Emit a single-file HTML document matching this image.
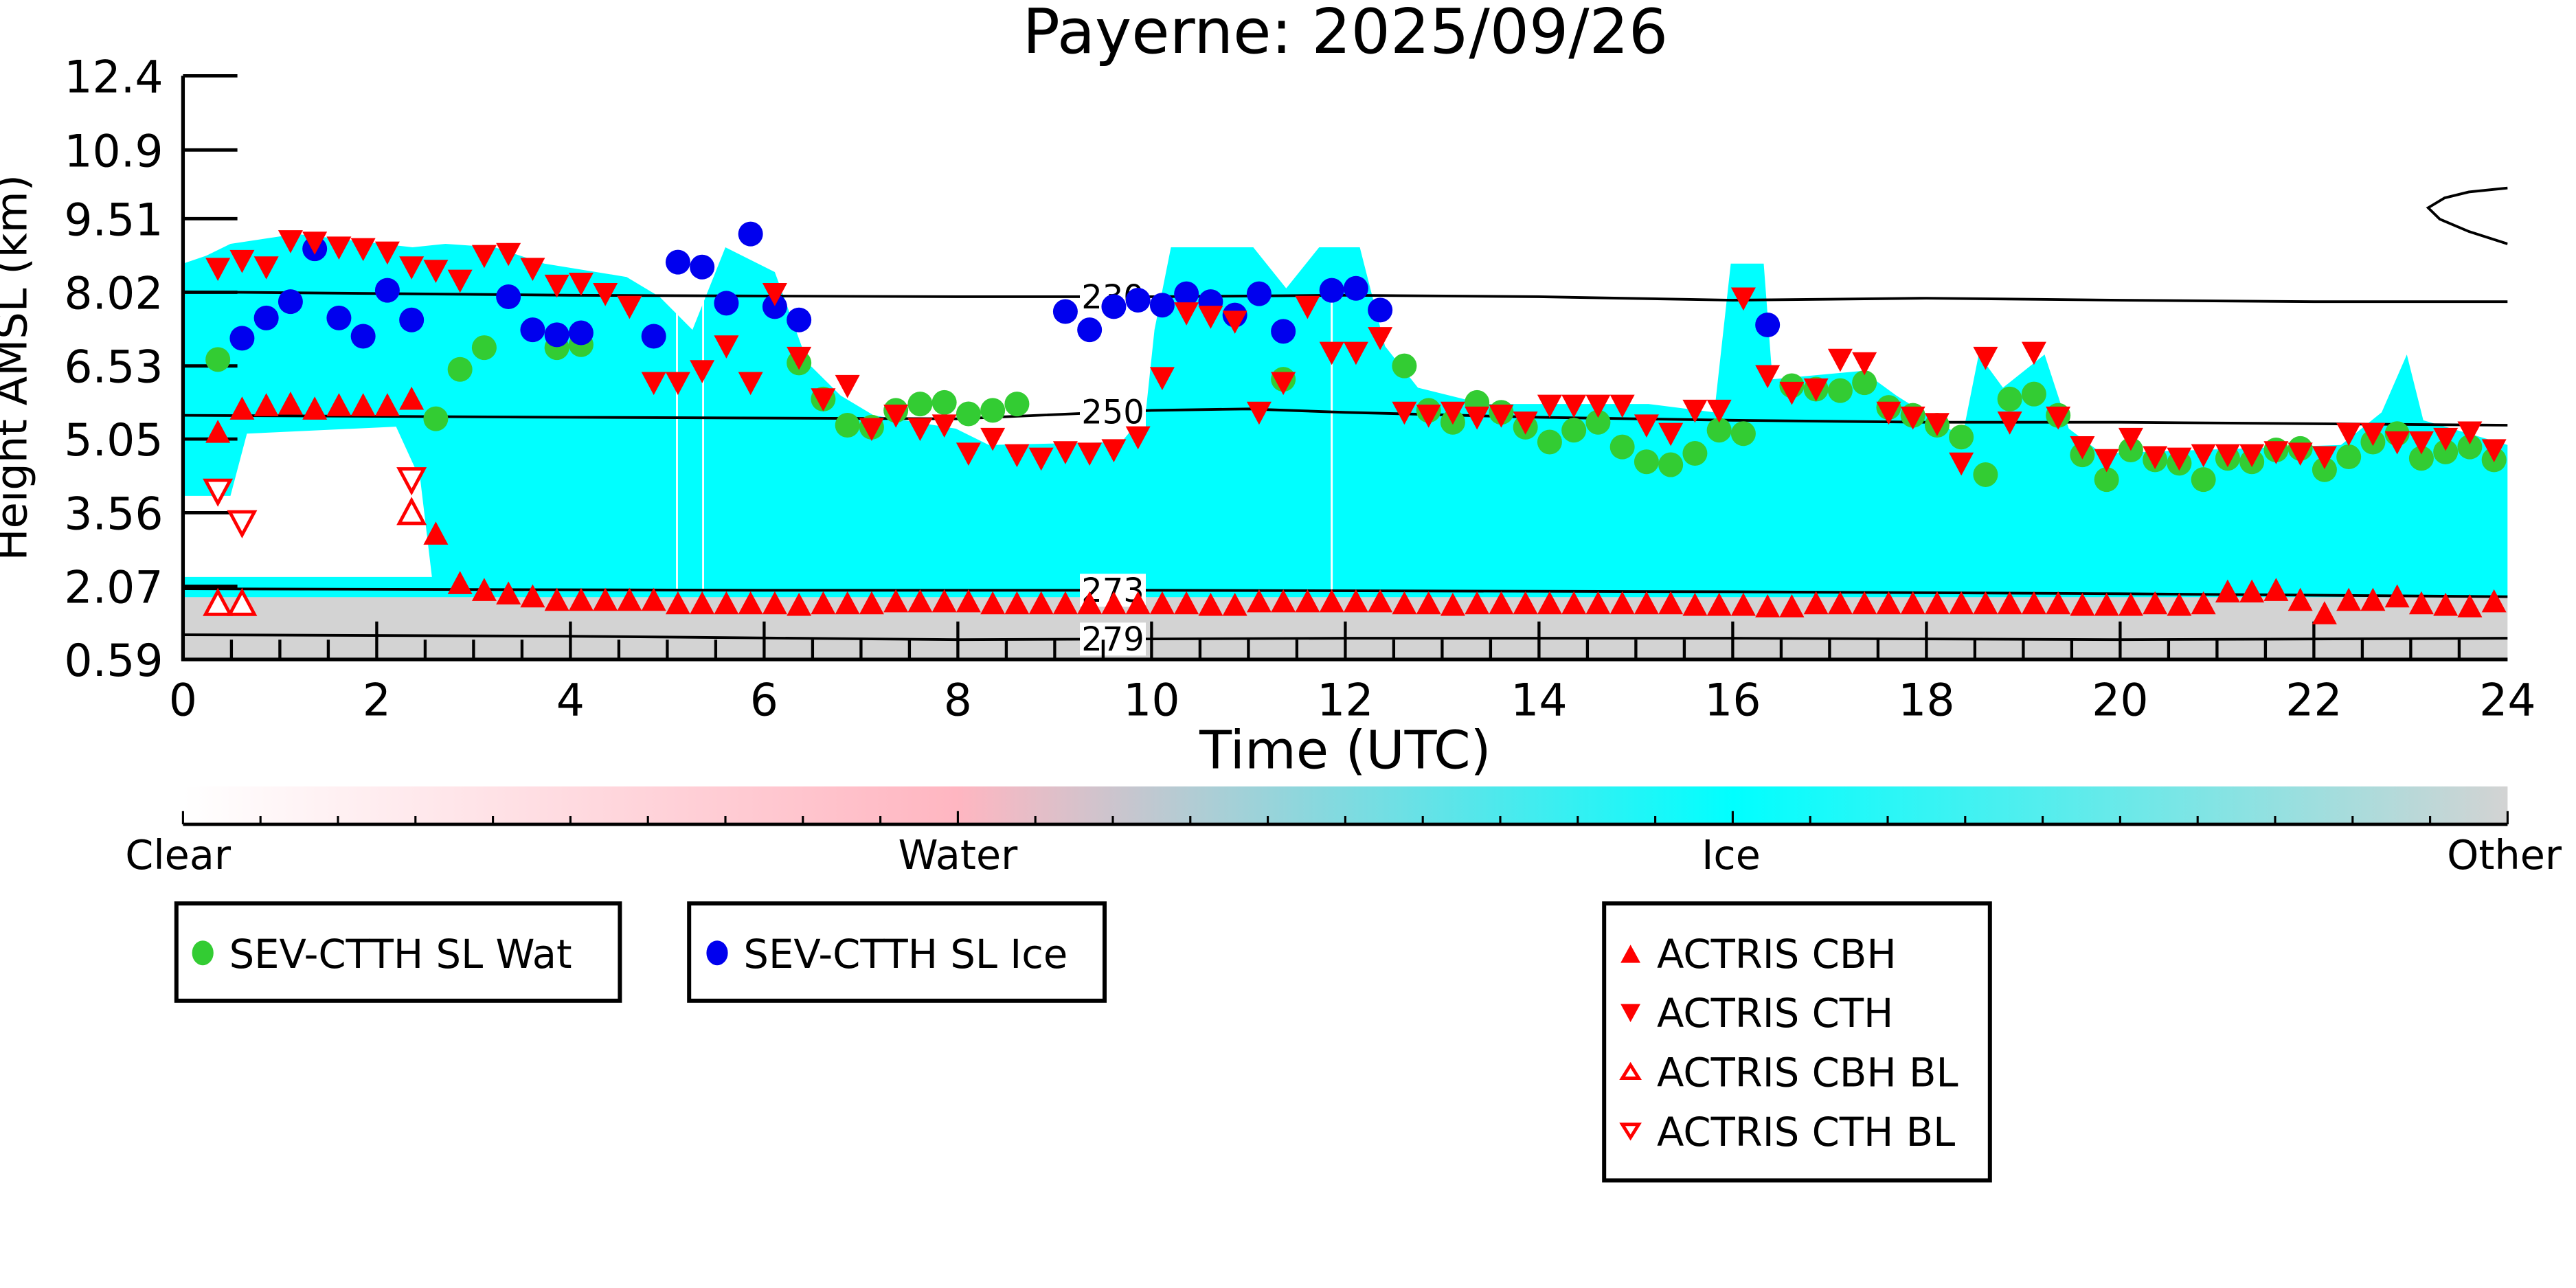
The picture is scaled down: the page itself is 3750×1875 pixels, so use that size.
<!DOCTYPE html>
<html><head><meta charset="utf-8"><title>Payerne: 2025/09/26</title>
<style>
html,body{margin:0;padding:0;background:#fff;}
svg{display:block;font-family:"DejaVu Sans","Liberation Sans",sans-serif;}
</style></head>
<body>
<svg id="chart" xmlns="http://www.w3.org/2000/svg" width="3750" height="1875" viewBox="0 0 1562.5 781.25">
<defs>
<linearGradient id="cbar" x1="0" x2="1" y1="0" y2="0">
<stop offset="0" stop-color="#ffffff"/>
<stop offset="0.333" stop-color="#ffb6c1"/>
<stop offset="0.667" stop-color="#00ffff"/>
<stop offset="1" stop-color="#d3d3d3"/>
</linearGradient>
<clipPath id="plotclip"><rect x="111" y="46" width="1410" height="354"/></clipPath>
</defs>
<text x="816" y="32" font-size="37.5" text-anchor="middle">Payerne: 2025/09/26</text>
<g id="plot" clip-path="url(#plotclip)"></g>
<g id="axes"></g>
<g id="marks"></g>
<text x="816" y="466" font-size="32" text-anchor="middle">Time (UTC)</text>
<text transform="translate(16,223) rotate(-90)" font-size="26" text-anchor="middle">Height AMSL (km)</text>
<g>
<rect x="111" y="477" width="1410" height="23" fill="url(#cbar)"/>
<g id="cbticks"></g>
<line x1="111" y1="500" x2="1521" y2="500" stroke="#000" stroke-width="2"/>
<text x="108" y="527" font-size="24.5" text-anchor="middle">Clear</text>
<text x="581" y="527" font-size="24.5" text-anchor="middle">Water</text>
<text x="1050" y="527" font-size="24.5" text-anchor="middle">Ice</text>
<text x="1519" y="527" font-size="24.5" text-anchor="middle">Other</text>
</g>
<g>
<rect x="107" y="548" width="269" height="59" fill="#fff" stroke="#000" stroke-width="2.5"/>
<ellipse cx="123" cy="578" rx="6.5" ry="7.5" fill="#33cc33"/>
<text x="139" y="587" font-size="24">SEV-CTTH SL Wat</text>
</g>
<g>
<rect x="418" y="548" width="252" height="59" fill="#fff" stroke="#000" stroke-width="2.5"/>
<ellipse cx="435" cy="578" rx="6.5" ry="7.5" fill="#0000ee"/>
<text x="451" y="587" font-size="24">SEV-CTTH SL Ice</text>
</g>
<g>
<rect x="973" y="548" width="234" height="168" fill="#fff" stroke="#000" stroke-width="2.5"/>
<polygon points="983,584 995,584 989,573" fill="#ff0000"/>
<text x="1005" y="587" font-size="24">ACTRIS CBH</text>
<polygon points="983,609 995,609 989,620" fill="#ff0000"/>
<text x="1005" y="623" font-size="24">ACTRIS CTH</text>
<polygon points="984,654 994,654 989,646" fill="#fff" stroke="#ff0000" stroke-width="2"/>
<text x="1005" y="659" font-size="24">ACTRIS CBH BL</text>
<polygon points="984,682 994,682 989,690" fill="#fff" stroke="#ff0000" stroke-width="2"/>
<text x="1005" y="695" font-size="24">ACTRIS CTH BL</text>
</g>
</svg>
<script>
const NS = "http://www.w3.org/2000/svg";
// ---- data ----
const yTickLabels = ["0.59","2.07","3.56","5.05","6.53","8.02","9.51","10.9","12.4"];
const yTickValues = [0.59,2.07,3.56,5.05,6.53,8.02,9.51,10.9,12.4];
const xTickValues = [0,2,4,6,8,10,12,14,16,18,20,22,24];
const iceTopTimes = [0,0.24,0.49,1.17,2.37,2.71,3.22,3.73,4.58,4.92,5.26,5.60,6.11,6.45,6.79,7.13,7.98,8.32,9.69,9.94,10.03,10.20,11.05,11.39,11.73,12.15,12.41,12.75,13.43,15.13,15.81,15.98,16.32,16.41,17.34,17.69,18.37,18.54,18.79,19.22,19.47,19.81,22.28,22.70,22.96,23.13,24];
const iceTopKm = [8.60,8.76,9.00,9.20,8.93,9.00,8.93,8.60,8.33,7.93,7.26,8.93,8.43,6.59,5.93,5.53,5.26,4.93,4.99,5.59,7.26,8.93,8.93,8.10,8.93,8.93,6.93,6.09,5.76,5.76,5.59,8.60,8.60,6.26,6.43,5.93,5.09,6.76,6.09,6.76,5.26,4.76,4.93,5.59,6.76,5.43,4.93];
const otherTopKm = 1.85;
const clearPatchTimes = [0,0.49,0.66,2.2,2.45,2.57,0];
const clearPatchKm = [3.9,3.9,5.16,5.3,4.23,2.26,2.26];
const cthTimes = [0.36,0.61,0.86,1.11,1.36,1.61,1.86,2.11,2.36,2.61,2.86,3.11,3.36,3.61,3.86,4.11,4.36,4.61,4.86,5.11,5.36,5.61,5.86,6.11,6.36,6.61,6.86,7.11,7.36,7.61,7.86,8.11,8.36,8.61,8.86,9.11,9.36,9.61,9.86,10.11,10.36,10.61,10.86,11.11,11.36,11.61,11.86,12.11,12.36,12.61,12.86,13.11,13.36,13.61,13.86,14.11,14.36,14.61,14.86,15.11,15.36,15.61,15.86,16.11,16.36,16.61,16.86,17.11,17.36,17.61,17.86,18.11,18.36,18.61,18.86,19.11,19.36,19.61,19.86,20.11,20.36,20.61,20.86,21.11,21.36,21.61,21.86,22.11,22.36,22.61,22.86,23.11,23.36,23.61,23.86];
const cthKm = [8.50,8.66,8.53,9.06,9.03,8.93,8.90,8.83,8.53,8.46,8.26,8.76,8.80,8.50,8.16,8.20,7.99,7.73,6.19,6.19,6.43,6.93,6.19,7.99,6.70,5.86,6.13,5.26,5.53,5.26,5.33,4.76,5.06,4.73,4.66,4.79,4.76,4.83,5.09,6.29,7.60,7.53,7.43,5.59,6.19,7.73,6.80,6.80,7.10,5.59,5.53,5.59,5.49,5.53,5.39,5.73,5.73,5.73,5.73,5.33,5.16,5.63,5.63,7.90,6.33,5.99,6.06,6.66,6.59,5.59,5.49,5.36,4.56,6.70,5.39,6.80,5.49,4.89,4.63,5.06,4.69,4.66,4.73,4.73,4.73,4.79,4.76,4.69,5.16,5.16,4.99,4.99,5.06,5.19,4.83];
const cbhTimes = cthTimes;
const cbhKm = [5.19,5.66,5.73,5.76,5.66,5.73,5.73,5.73,5.86,3.13,2.13,1.99,1.92,1.86,1.79,1.79,1.79,1.79,1.79,1.72,1.72,1.72,1.72,1.72,1.69,1.72,1.72,1.72,1.76,1.76,1.76,1.76,1.72,1.72,1.72,1.72,1.72,1.72,1.72,1.72,1.72,1.69,1.69,1.76,1.76,1.76,1.76,1.76,1.76,1.72,1.72,1.69,1.72,1.72,1.72,1.72,1.72,1.72,1.72,1.72,1.72,1.69,1.69,1.69,1.66,1.66,1.72,1.72,1.72,1.72,1.72,1.72,1.72,1.72,1.72,1.72,1.72,1.69,1.69,1.69,1.72,1.69,1.72,1.96,1.96,1.99,1.79,1.52,1.79,1.79,1.86,1.72,1.69,1.66,1.76];
const cbhBlTimes = [0.36,0.61,2.36];
const cbhBlKm = [1.72,1.72,3.56];
const cthBlTimes = [0.36,0.61,2.36];
const cthBlKm = [4.0,3.36,4.23];
const watTimes = [0.36,2.61,2.86,3.11,3.86,4.11,6.36,6.61,6.86,7.11,7.36,7.61,7.86,8.11,8.36,8.61,11.36,12.61,12.86,13.11,13.36,13.61,13.86,14.11,14.36,14.61,14.86,15.11,15.36,15.61,15.86,16.11,16.61,16.86,17.11,17.36,17.61,17.86,18.11,18.36,18.61,18.86,19.11,19.36,19.61,19.86,20.11,20.36,20.61,20.86,21.11,21.36,21.61,21.86,22.11,22.36,22.61,22.86,23.11,23.36,23.61,23.86];
const watKm = [6.66,5.46,6.46,6.90,6.90,6.96,6.59,5.86,5.33,5.29,5.63,5.76,5.79,5.56,5.63,5.76,6.26,6.53,5.63,5.39,5.79,5.59,5.29,4.99,5.23,5.39,4.89,4.59,4.53,4.76,5.23,5.16,6.13,6.06,6.03,6.19,5.69,5.53,5.33,5.09,4.33,5.86,5.96,5.53,4.73,4.23,4.83,4.63,4.56,4.23,4.66,4.59,4.83,4.86,4.43,4.69,4.99,5.16,4.66,4.79,4.89,4.63];
const iceTimes = [0.61,0.86,1.11,1.36,1.61,1.86,2.11,2.36,3.36,3.61,3.86,4.11,4.86,5.11,5.36,5.61,5.86,6.11,6.36,9.11,9.36,9.61,9.86,10.11,10.36,10.61,10.86,11.11,11.36,11.86,12.11,12.36,16.36];
const iceKm = [7.09,7.50,7.83,8.90,7.50,7.13,8.06,7.46,7.93,7.26,7.16,7.20,7.13,8.63,8.53,7.80,9.20,7.73,7.46,7.63,7.26,7.73,7.86,7.76,7.99,7.83,7.56,7.99,7.23,8.06,8.10,7.66,7.36];
const c230Times = [0,4,8,10,12,14,16,18,20,22,24];
const c230Km = [8.03,7.96,7.93,7.93,7.96,7.93,7.86,7.90,7.86,7.83,7.83];
const c250Times = [0,4,8,10,11,12,14,16,18,20,22,24];
const c250Km = [5.53,5.49,5.46,5.63,5.66,5.59,5.49,5.43,5.39,5.39,5.36,5.33];
const c273Times = [0,6,10,16,20,24];
const c273Km = [2.02,1.99,1.99,1.96,1.92,1.86];
const c279Times = [0,4,8,12,16,20,24];
const c279Km = [1.09,1.06,0.99,1.02,1.02,0.99,1.02];
const cTopTimes = [24,23.6,23.35,23.18,23.3,23.6,24];
const cTopKm = [10.13,10.05,9.93,9.73,9.50,9.25,9.0];
const streakTimes = [5.1,5.37,11.86];

// ---- scales ----
const X0=111, X1=1521, Y0=400, Y1=46;
function xs(t){ return X0 + t/24*(X1-X0); }
function ys(h){ return Y0 - (h-0.59)/(12.4-0.59)*(Y0-Y1); }
function mk(tag, attrs, parent){ const e=document.createElementNS(NS,tag); for(const k in attrs) e.setAttribute(k,attrs[k]); parent.appendChild(e); return e; }
const plot=document.getElementById('plot'), axes=document.getElementById('axes'), marks=document.getElementById('marks');

let pts = iceTopTimes.map((t,i)=>xs(t)+','+ys(iceTopKm[i]));
pts.push(xs(24)+','+ys(otherTopKm)); pts.push(xs(0)+','+ys(otherTopKm));
let ice = mk('polygon',{points:pts.join(' '),fill:'#00ffff'},plot);


let clr = mk('polygon',{points:clearPatchTimes.map((t,i)=>xs(t)+','+ys(clearPatchKm[i])).join(' '),fill:'#ffffff'},plot);


streakTimes.forEach(t=>{
  const s = mk('line',{x1:xs(t),x2:xs(t),y1:ys(8.0),y2:ys(2.0),stroke:'#ffffff','stroke-width':1.2},plot);
  
  
});
let oth = mk('rect',{x:X0,y:ys(otherTopKm),width:X1-X0,height:Y0-ys(otherTopKm),fill:'#d3d3d3'},plot);



function contour(times, kms, name, label, lt){
  const d = times.map((t,i)=>(i?'L':'M')+xs(t)+' '+ys(kms[i])).join(' ');
  const p = mk('path',{d:d,fill:'none',stroke:'#000','stroke-width':1.6},plot);
  
  
  if(label){
    let k=0; while(k<times.length-1 && times[k+1]<lt) k++;
    const f=(lt-times[k])/(times[k+1]-times[k]);
    const h=kms[k]+f*(kms[k+1]-kms[k]);
    mk('rect',{x:xs(lt)-20,y:ys(h)-10,width:40,height:20,fill:'#ffffff'},plot);
    const tx = mk('text',{x:xs(lt),y:ys(h)+7,'font-size':20,'text-anchor':'middle'},plot);
    tx.textContent=label;
    
    
  }
}
contour(c230Times,c230Km,'contour-230','230',9.6);
contour(c250Times,c250Km,'contour-250','250',9.6);
contour(c273Times,c273Km,'contour-273','273',9.6);
contour(c279Times,c279Km,'contour-279','279',9.6);
contour(cTopTimes,cTopKm,'contour-top-right',null,0);

mk('line',{x1:X0,y1:Y1,x2:X0,y2:Y0+1,stroke:'#000','stroke-width':2.2},axes);
mk('line',{x1:X0-1,y1:Y0,x2:X1,y2:Y0,stroke:'#000','stroke-width':2.2},axes);
yTickValues.forEach((v,i)=>{
  const y=ys(v);
  const tk = mk('line',{x1:X0,x2:X0+33,y1:y,y2:y,stroke:'#000','stroke-width':2},axes);
  
  
  const t = mk('text',{x:X0-12,y:y+10,'font-size':27,'text-anchor':'end'},axes);
  t.textContent=yTickLabels[i];
  
  
});
for(let h=0.5; h<24; h+=0.5){
  const major = Math.abs(h/2-Math.round(h/2))<1e-6;
  const x=xs(h);
  const tk = mk('line',{x1:x,x2:x,y1:Y0,y2:Y0-(major?23:12),stroke:'#000','stroke-width':1.8},axes);
  
  
}
xTickValues.forEach(v=>{
  const t = mk('text',{x:xs(v),y:Y0+34,'font-size':27,'text-anchor':'middle'},axes);
  t.textContent=String(v);
  
  
});
const cb=document.getElementById('cbticks');
for(let i=0;i<=30;i++){
  const x=X0+i/30*(X1-X0);
  const major = i%10===0;
  const tk = mk('line',{x1:x,x2:x,y1:500,y2:major?492:495,stroke:'#000','stroke-width':1.3},cb);
  
  
}

function tri(t,h,up,fill,name){
  const x=xs(t), y=ys(h);
  const p = up ? [[x-7.5,y+6.5],[x+7.5,y+6.5],[x,y-7.5]] : [[x-7.5,y-6.5],[x+7.5,y-6.5],[x,y+7.5]];
  const e = mk('polygon',{points:p.map(q=>q.join(',')).join(' '),fill:fill?'#ff0000':'#ffffff',stroke:'#ff0000','stroke-width':fill?0:2},marks);
  
  
}
function dot(t,h,color,name){
  const e = mk('ellipse',{cx:xs(t),cy:ys(h),rx:7.5,ry:7.5,fill:color},marks);
  
  
}
watTimes.forEach((t,i)=>dot(t,watKm[i],'#33cc33','sev-wat-point'));
iceTimes.forEach((t,i)=>dot(t,iceKm[i],'#0000ee','sev-ice-point'));
cthTimes.forEach((t,i)=>tri(t,cthKm[i],false,true,'actris-cth-point'));
cbhTimes.forEach((t,i)=>tri(t,cbhKm[i],true,true,'actris-cbh-point'));
cbhBlTimes.forEach((t,i)=>tri(t,cbhBlKm[i],true,false,'actris-cbh-bl-point'));
cthBlTimes.forEach((t,i)=>tri(t,cthBlKm[i],false,false,'actris-cth-bl-point'));
</script>
</body></html>
